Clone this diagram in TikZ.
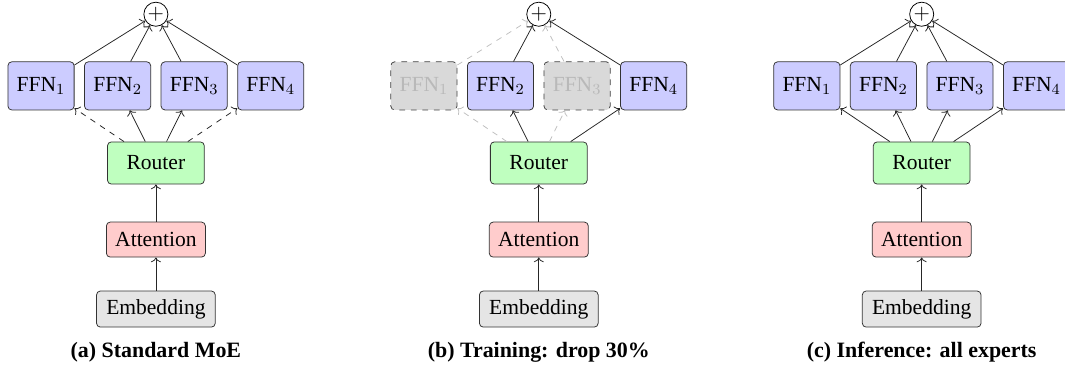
\documentclass[tikz,border=0pt]{standalone}
\usepackage{fontspec}
\setmainfont{Liberation Serif}
\usetikzlibrary{arrows.meta, positioning}

\begin{document}
\begin{tikzpicture}[
  every node/.style={font=\fontsize{11.2}{13.4}\selectfont},
  box/.style={draw=black!80, rounded corners=2pt, align=center},
  ffn/.style={box, fill=blue!20, minimum width=1.21cm, minimum height=0.88cm},
  dropped/.style={box, fill=gray!30, draw=black!75, dashed, text=gray!55, minimum width=1.21cm, minimum height=0.88cm},
  router/.style={box, fill=green!25, minimum width=1.77cm, minimum height=0.77cm},
  attn/.style={box, fill=red!20, minimum width=1.81cm, minimum height=0.64cm},
  embed/.style={box, fill=gray!20, minimum width=2.17cm, minimum height=0.66cm},
  sum/.style={circle, draw, inner sep=0pt, minimum size=0.44cm},
  flow/.style={->, black!85},
  off/.style={->, dashed, gray!50},
  caption/.style={font=\fontsize{11.4}{13.7}\selectfont\bfseries}
]
\useasboundingbox (-2.85,-1.10) rectangle (16.62,5.65);

% (a) Standard MoE
\begin{scope}
\node[embed] (emb-a) at (0,0) {Embedding};
\node[attn] (att-a) at (0,1.27) {Attention};
\node[router] (rt-a) at (0,2.67) {Router};
\foreach \i/\x in {1/-2.1,2/-0.7,3/0.7,4/2.1}
  \node[ffn] (ffn\i-a) at (\x,4.08) {FFN$_\i$};
\node[sum] (sum-a) at (0,5.39) {$+$};

\draw[flow] (emb-a) -- (att-a);
\draw[flow] (att-a) -- (rt-a);
\draw[flow, dashed] (rt-a) -- (ffn1-a);
\draw[flow] (rt-a) -- (ffn2-a);
\draw[flow] (rt-a) -- (ffn3-a);
\draw[flow, dashed] (rt-a) -- (ffn4-a);
\foreach \i in {1,...,4}
  \draw[flow] (ffn\i-a) -- (sum-a);

\node[caption] (cap-a) at (0,-0.79) {(a) Standard MoE};
\end{scope}

% (b) Training: experts 1 and 3 dropped
\begin{scope}[xshift=7cm]
\node[embed] (emb-b) at (0,0) {Embedding};
\node[attn] (att-b) at (0,1.27) {Attention};
\node[router] (rt-b) at (0,2.67) {Router};
\node[dropped] (ffn1-b) at (-2.1,4.08) {FFN$_1$};
\node[ffn] (ffn2-b) at (-0.7,4.08) {FFN$_2$};
\node[dropped] (ffn3-b) at (0.7,4.08) {FFN$_3$};
\node[ffn] (ffn4-b) at (2.1,4.08) {FFN$_4$};
\node[sum] (sum-b) at (0,5.39) {$+$};

\draw[flow] (emb-b) -- (att-b);
\draw[flow] (att-b) -- (rt-b);
\draw[off] (rt-b) -- (ffn1-b);
\draw[flow] (rt-b) -- (ffn2-b);
\draw[off] (rt-b) -- (ffn3-b);
\draw[flow] (rt-b) -- (ffn4-b);
\draw[off] (ffn1-b) -- (sum-b);
\draw[flow] (ffn2-b) -- (sum-b);
\draw[off] (ffn3-b) -- (sum-b);
\draw[flow] (ffn4-b) -- (sum-b);

\node[caption] (cap-b) at (0,-0.79) {(b) Training: drop 30\%};
\end{scope}

% (c) Inference: all experts
\begin{scope}[xshift=14cm]
\node[embed] (emb-c) at (0,0) {Embedding};
\node[attn] (att-c) at (0,1.27) {Attention};
\node[router] (rt-c) at (0,2.67) {Router};
\foreach \i/\x in {1/-2.1,2/-0.7,3/0.7,4/2.1}
  \node[ffn] (ffn\i-c) at (\x,4.08) {FFN$_\i$};
\node[sum] (sum-c) at (0,5.39) {$+$};

\draw[flow] (emb-c) -- (att-c);
\draw[flow] (att-c) -- (rt-c);
\foreach \i in {1,...,4} {
  \draw[flow] (rt-c) -- (ffn\i-c);
  \draw[flow] (ffn\i-c) -- (sum-c);
}

\node[caption] (cap-c) at (0,-0.79) {(c) Inference: all experts};
\end{scope}
\end{tikzpicture}
\end{document}
